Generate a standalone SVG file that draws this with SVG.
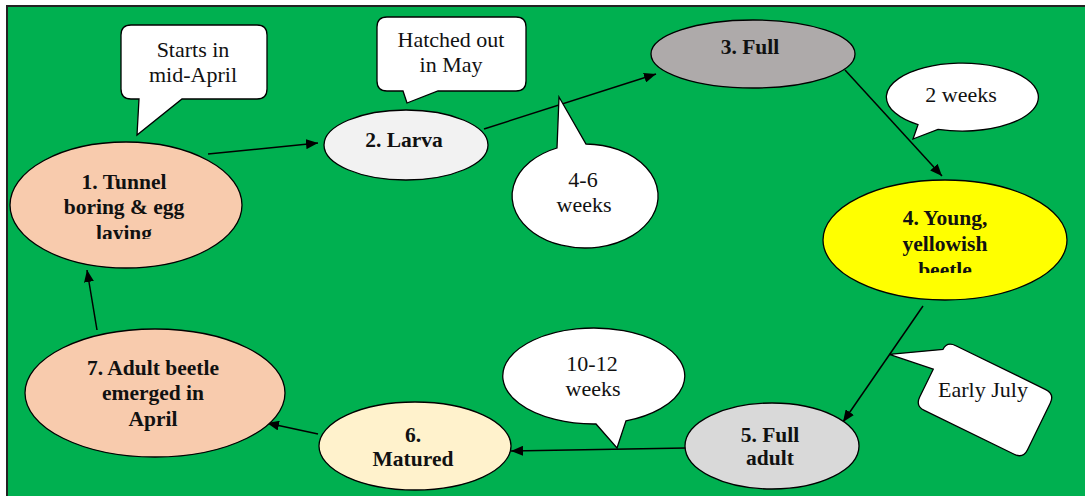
<svg xmlns="http://www.w3.org/2000/svg" width="1085" height="496" viewBox="0 0 1085 496">
<style>
.node{stroke:#000;stroke-width:1.3}
.nt{font-family:'Liberation Serif',Tinos,'Times New Roman','DejaVu Serif',serif;font-weight:bold;font-size:21.5px;fill:#111;text-anchor:middle}
.call{fill:#fff;stroke:#000;stroke-width:1.3}
.ct{font-family:'Liberation Serif',Tinos,'Times New Roman','DejaVu Serif',serif;font-size:22px;fill:#111;text-anchor:middle}
.conn{stroke:#000;stroke-width:1.5;fill:none;marker-end:url(#ah)}
</style>
<defs>
<marker id="ah" viewBox="0 0 12 10" refX="12" refY="5" markerWidth="12" markerHeight="10" orient="auto" markerUnits="userSpaceOnUse"><path d="M0,0 L12,5 L0,10 Z" fill="#000"/></marker>
<clipPath id="clip1"><rect x="0" y="0" width="300" height="239"/></clipPath>
<clipPath id="clip4"><rect x="800" y="150" width="285" height="123"/></clipPath>
</defs>
<rect x="0" y="0" width="1085" height="496" fill="#fff"/>
<rect x="7" y="6" width="1090" height="500" fill="#00B050" stroke="#222" stroke-width="2"/>

<g id="connectors">
<line class="conn" x1="208" y1="154" x2="318" y2="143"/>
<line class="conn" x1="484" y1="129" x2="656" y2="74"/>
<line class="conn" x1="845" y1="70" x2="942" y2="176"/>
<line class="conn" x1="923" y1="306" x2="843" y2="422"/>
<line class="conn" x1="686" y1="448" x2="511" y2="451"/>
<line class="conn" x1="318" y1="434" x2="267" y2="423"/>
<line class="conn" x1="97" y1="330" x2="87" y2="270"/>
</g>

<g id="node1">
<ellipse class="node" cx="126" cy="205" rx="116" ry="63" fill="#F8CBAD"/>
<g clip-path="url(#clip1)">
<text class="nt" x="124" y="189">1. Tunnel</text>
<text class="nt" x="124" y="214">boring &amp; egg</text>
<text class="nt" x="124" y="240">laying</text>
</g>
</g>
<g id="node2">
<ellipse class="node" cx="406" cy="145" rx="82" ry="35" fill="#F2F2F2"/>
<text class="nt" x="404" y="147">2. Larva</text>
</g>
<g id="node3">
<ellipse class="node" cx="753" cy="54" rx="102" ry="34" fill="#AEAAAA"/>
<text class="nt" x="750" y="54">3. Full</text>
</g>
<g id="node4">
<ellipse class="node" cx="945" cy="240" rx="122" ry="60" fill="#FFFF00"/>
<g clip-path="url(#clip4)">
<text class="nt" x="945" y="225">4. Young,</text>
<text class="nt" x="945" y="251">yellowish</text>
<text class="nt" x="945" y="277">beetle</text>
</g>
</g>
<g id="node5">
<ellipse class="node" cx="772" cy="446" rx="87" ry="43" fill="#D9D9D9"/>
<text class="nt" x="770" y="442">5. Full</text>
<text class="nt" x="770" y="465">adult</text>
</g>
<g id="node6">
<ellipse class="node" cx="415" cy="446" rx="96" ry="44" fill="#FFF2CC"/>
<text class="nt" x="413" y="442">6.</text>
<text class="nt" x="413" y="466">Matured</text>
</g>
<g id="node7">
<ellipse class="node" cx="155" cy="393" rx="130" ry="64" fill="#F8CBAD"/>
<text class="nt" x="153" y="375">7. Adult beetle</text>
<text class="nt" x="153" y="400">emerged in</text>
<text class="nt" x="153" y="426">April</text>
</g>

<g id="callout-starts">
<path class="call" d="M131,25 H257 Q267,25 267,35 V89 Q267,99 257,99 H182 L137,135 L139,99 H131 Q121,99 121,89 V35 Q121,25 131,25 Z"/>
<text class="ct" x="193" y="57">Starts in</text>
<text class="ct" x="193" y="82">mid-April</text>
</g>
<g id="callout-hatched">
<path class="call" d="M387,17 H516 Q526,17 526,27 V81 Q526,91 516,91 H438 L407,103 L403,91 H387 Q377,91 377,81 V27 Q377,17 387,17 Z"/>
<text class="ct" x="451" y="47">Hatched out</text>
<text class="ct" x="451" y="72">in May</text>
</g>
<g id="callout-4-6">
<path class="call" d="M559,97 L586,144 A73,52 0 1 1 557,148 Z"/>
<text class="ct" x="583" y="187">4-6</text>
<text class="ct" x="584" y="212">weeks</text>
</g>
<g id="callout-2weeks">
<path class="call" d="M913,139 L918,124.7 A76,34 0 1 1 938,129.3 Z"/>
<text class="ct" x="961" y="102">2 weeks</text>
</g>
<g id="callout-july">
<path class="call" transform="translate(985,400) rotate(26)" d="M-50,-36 H50 Q60,-36 60,-26 V26 Q60,36 50,36 H-50 Q-60,36 -60,26 V-5 L-106,1 L-60,-27 Q-60,-36 -50,-36 Z"/>
<text class="ct" x="983" y="397">Early July</text>
</g>
<g id="callout-10-12">
<path class="call" d="M617,448 L626,420.9 A91,48 0 1 0 596,424 Z"/>
<text class="ct" x="592" y="371">10-12</text>
<text class="ct" x="593" y="396">weeks</text>
</g>
</svg>
